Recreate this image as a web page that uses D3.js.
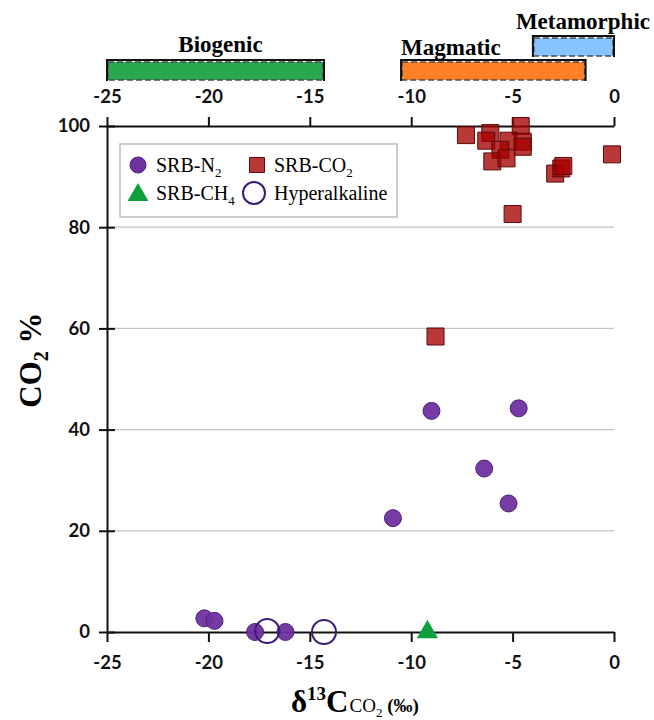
<!doctype html>
<html>
<head>
  <meta charset="utf-8">
  <script src="https://cdnjs.cloudflare.com/ajax/libs/d3/7.8.5/d3.min.js"></script>
  <style>
    body { margin: 0; background: #fff; }
    .tick text { font-family: Lato, "Open Sans", sans-serif; font-weight: bold; font-size: 18.5px; fill: #111; }
    .serif { font-family: "Liberation Serif", "DejaVu Serif", serif; fill: #000; }
  </style>
</head>
<body>
<svg id="chart" width="654" height="720"></svg>
<script>
  // source ranges on the top strip (delta 13C, permil)
  var bandNames = ["Biogenic", "Magmatic", "Metamorphic"];
  var bandStart = [-25, -10.5, -4];
  var bandEnd = [-14.3, -1.4, 0];

  // samples
  var srbN2X = [-20.2, -19.7, -17.7, -16.2, -10.9, -9.0, -4.7, -6.4, -5.2];
  var srbN2Y = [2.7, 2.2, 0, 0, 22.5, 43.7, 44.2, 32.3, 25.4];
  var srbCO2X = [-7.3, -6.1, -6.3, -4.6, -5.2, -4.5, -4.5, -5.6, -6.0, -5.3, -2.9, -2.6, -2.5, -0.1, -5.0, -8.8];
  var srbCO2Y = [98.2, 98.6, 97.1, 100, 97.1, 96.9, 95.9, 95.3, 93.0, 93.6, 90.6, 91.6, 92.1, 94.4, 82.6, 58.4];
  var srbCH4X = [-9.2];
  var srbCH4Y = [0];
  var hyperX = [-17.1, -14.3];
  var hyperY = [0.2, 0];

  var xTicks = [-25, -20, -15, -10, -5, 0];
  var yTicks = [0, 20, 40, 60, 80, 100];

  var svg = d3.select("#chart");
  var x = d3.scaleLinear().domain([-25, 0]).range([107, 614]);
  var y = d3.scaleLinear().domain([0, 100]).range([632, 126]);

  // grid
  svg.append("g").selectAll("line")
    .data(yTicks.filter(function(d) { return d > 0 && d < 100; }))
    .enter().append("line")
    .attr("x1", x(-25)).attr("x2", x(0))
    .attr("y1", function(d) { return y(d); }).attr("y2", function(d) { return y(d); })
    .attr("stroke", "#c4c4c4").attr("stroke-width", 1.2);

  // top band strip
  var bandFill = ["#2aa84f", "#ff7f27", "#88c4ff"];
  var bandTop = [60, 60, 36];
  var bandH = 21;
  var bandLabelX = [function(i) { return (x(bandStart[i]) + x(bandEnd[i])) / 2 + 5; },
                    function(i) { return x(bandStart[i]); },
                    function(i) { return x(bandStart[i]) - 17; }];
  var bandAnchor = ["middle", "start", "start"];
  var bandLabelY = [52, 55, 29];

  var bands = svg.append("g");
  bandNames.forEach(function(name, i) {
    var x0 = x(bandStart[i]), x1 = x(bandEnd[i]), y0 = bandTop[i], y1 = bandTop[i] + bandH;
    bands.append("rect")
      .attr("x", x0 + 1).attr("y", y0 + 2)
      .attr("width", x1 - x0 - 2).attr("height", bandH - 3)
      .attr("fill", bandFill[i])
      .attr("stroke", "#4a4a4a").attr("stroke-width", 1.5)
      .attr("stroke-dasharray", "6,3");
    bands.append("path")
      .attr("d", "M" + x0 + "," + y1 + "V" + y0 + "H" + x1 + "V" + y1)
      .attr("fill", "none").attr("stroke", "#111").attr("stroke-width", 2);
    bands.append("text").attr("class", "serif")
      .attr("x", bandLabelX[i](i)).attr("y", bandLabelY[i])
      .attr("text-anchor", bandAnchor[i])
      .attr("font-weight", "bold").attr("font-size", 23)
      .text(name);
  });

  function styleAxis(g) {
    g.select(".domain").attr("stroke", "#111").attr("stroke-width", 2);
    g.selectAll(".tick line").attr("stroke", "#111").attr("stroke-width", 2);
  }

  // top axis
  var gTop = svg.append("g").attr("transform", "translate(0," + y(100) + ")")
    .call(d3.axisTop(x).tickValues(xTicks).tickSize(9).tickSizeOuter(0)
      .tickFormat(function(d) { return String(d); }));
  styleAxis(gTop);
  gTop.selectAll(".tick text").attr("y", -23).attr("dy", 0);

  // bottom axis
  var gBot = svg.append("g").attr("transform", "translate(0," + y(0) + ")")
    .call(d3.axisBottom(x).tickValues(xTicks).tickSize(10).tickSizeOuter(0)
      .tickFormat(function(d) { return String(d); }));
  styleAxis(gBot);
  gBot.selectAll(".tick text").attr("y", 37).attr("dy", 0);

  // left axis, ticks cross the line
  var gLeft = svg.append("g").attr("transform", "translate(" + x(-25) + ",0)")
    .call(d3.axisLeft(y).tickValues(yTicks).tickSize(8).tickSizeOuter(0).tickPadding(9));
  styleAxis(gLeft);
  gLeft.selectAll(".tick line").attr("x2", 8).attr("x1", -8);
  gLeft.selectAll(".tick text").attr("x", -17);

  // points
  var pts = svg.append("g");
  pts.selectAll(".n2").data(d3.range(srbN2X.length)).enter().append("circle")
    .attr("cx", function(i) { return x(srbN2X[i]); })
    .attr("cy", function(i) { return y(srbN2Y[i]); })
    .attr("r", 8.5)
    .attr("fill", "#7030a0").attr("fill-opacity", 0.95)
    .attr("stroke", "#4d2277").attr("stroke-width", 1);

  pts.selectAll(".co2").data(d3.range(srbCO2X.length)).enter().append("path")
    .attr("d", d3.symbol(d3.symbolSquare, 289))
    .attr("transform", function(i) { return "translate(" + x(srbCO2X[i]) + "," + y(srbCO2Y[i]) + ")"; })
    .attr("fill", "#a50000").attr("fill-opacity", 0.78)
    .attr("stroke", "#5a0c0c").attr("stroke-width", 1);

  pts.selectAll(".ch4").data(d3.range(srbCH4X.length)).enter().append("path")
    .attr("d", d3.symbol(d3.symbolTriangle, 195))
    .attr("transform", function(i) { return "translate(" + x(srbCH4X[i]) + "," + y(srbCH4Y[i]) + ")"; })
    .attr("fill", "#0e9f3e");

  pts.selectAll(".hyp").data(d3.range(hyperX.length)).enter().append("circle")
    .attr("cx", function(i) { return x(hyperX[i]); })
    .attr("cy", function(i) { return y(hyperY[i]); })
    .attr("r", 12)
    .attr("fill", "none")
    .attr("stroke", "#3b1a7a").attr("stroke-width", 2);

  // legend
  var lg = svg.append("g");
  lg.append("rect").attr("x", 120).attr("y", 144).attr("width", 277).attr("height", 73)
    .attr("fill", "#fff").attr("stroke", "#bdbdbd").attr("stroke-width", 1.5);
  lg.append("circle").attr("cx", 138).attr("cy", 165).attr("r", 8)
    .attr("fill", "#7030a0").attr("stroke", "#4d2277");
  lg.append("path").attr("d", d3.symbol(d3.symbolSquare, 225))
    .attr("transform", "translate(257,165)")
    .attr("fill", "#a50000").attr("fill-opacity", 0.78).attr("stroke", "#5a0c0c");
  lg.append("path").attr("d", d3.symbol(d3.symbolTriangle, 190))
    .attr("transform", "translate(138,195)").attr("fill", "#0e9f3e");
  lg.append("circle").attr("cx", 254).attr("cy", 193).attr("r", 11)
    .attr("fill", "none").attr("stroke", "#3b1a7a").attr("stroke-width", 2);

  function subLabel(xp, yp, main, sub) {
    var t = lg.append("text").attr("class", "serif").attr("x", xp).attr("y", yp).attr("font-size", 20);
    t.append("tspan").text(main);
    if (sub) t.append("tspan").attr("font-size", 13).attr("dy", 5).text(sub);
  }
  subLabel(156, 172, "SRB-N", "2");
  subLabel(274, 172, "SRB-CO", "2");
  subLabel(156, 200, "SRB-CH", "4");
  subLabel(274, 200, "Hyperalkaline");

  // axis titles
  var yl = svg.append("text").attr("class", "serif")
    .attr("transform", "translate(41,360) rotate(-90)")
    .attr("text-anchor", "middle").attr("font-weight", "bold").attr("font-size", 31);
  yl.append("tspan").text("CO");
  yl.append("tspan").attr("font-size", 20).attr("dy", 7).text("2");
  yl.append("tspan").attr("dy", -7).text(" %");

  var xl = svg.append("text").attr("class", "serif")
    .attr("x", 291).attr("y", 712).attr("font-weight", "bold").attr("font-size", 31);
  xl.append("tspan").text("δ");
  xl.append("tspan").attr("font-size", 19).attr("dy", -12).text("13");
  xl.append("tspan").attr("dy", 12).text("C");
  xl.append("tspan").attr("font-size", 19).attr("dx", 1).attr("font-weight", "normal").text("CO");
  xl.append("tspan").attr("font-size", 13).attr("dy", 5).attr("font-weight", "normal").text("2");
  xl.append("tspan").attr("font-size", 19).attr("dy", -5).text(" (‰)");
</script>
</body>
</html>
